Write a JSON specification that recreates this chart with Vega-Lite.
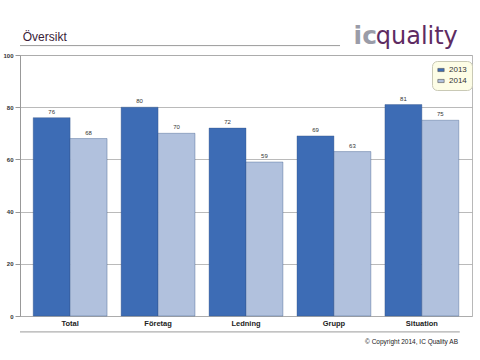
{
  "$schema": "https://vega.github.io/schema/vega-lite/v6.json",
  "width": 452,
  "height": 261,
  "autosize": {"type": "none"},
  "padding": {"left": 20, "top": 55, "right": 8, "bottom": 44},
  "background": "white",
  "config": {
    "view": {"stroke": "#b8b8b8", "strokeWidth": 1},
    "font": "Liberation Sans"
  },
  "layer": [
    {
      "data": {
        "values": [
          {"category": "Total", "year": "2013", "value": 76},
          {"category": "Total", "year": "2014", "value": 68},
          {"category": "Företag", "year": "2013", "value": 80},
          {"category": "Företag", "year": "2014", "value": 70},
          {"category": "Ledning", "year": "2013", "value": 72},
          {"category": "Ledning", "year": "2014", "value": 59},
          {"category": "Grupp", "year": "2013", "value": 69},
          {"category": "Grupp", "year": "2014", "value": 63},
          {"category": "Situation", "year": "2013", "value": 81},
          {"category": "Situation", "year": "2014", "value": 75}
        ]
      },
      "encoding": {
        "x": {
          "field": "category", "type": "nominal", "sort": null,
          "scale": {"paddingInner": 0.16, "paddingOuter": 0.15},
          "axis": {"title": null, "labelAngle": 0, "ticks": false, "domain": false, "labelFontSize": 7.5, "labelFontWeight": "bold", "labelColor": "#222", "labelPadding": 3}
        },
        "xOffset": {"field": "year", "type": "nominal", "scale": {"paddingInner": 0, "paddingOuter": 0}},
        "y": {
          "field": "value", "type": "quantitative",
          "scale": {"domain": [0, 100], "nice": false},
          "axis": {"title": null, "values": [0, 20, 40, 60, 80, 100], "labelFontSize": 6, "labelFontWeight": "bold", "labelColor": "#333", "tickSize": 5, "tickColor": "#999", "domainColor": "#999", "gridColor": "#a8a8a8", "gridWidth": 0.8, "labelPadding": 2}
        }
      },
      "layer": [
        {
          "mark": {"type": "bar", "stroke": "#2f4f80", "strokeWidth": 0.6, "strokeOpacity": 0.6},
          "encoding": {
            "color": {
              "field": "year", "type": "nominal",
              "scale": {"domain": ["2013", "2014"], "range": ["#3d6cb5", "#b1c1dd"]},
              "legend": {
                "title": null, "orient": "none", "legendX": 412, "legendY": 6,
                "fillColor": "#fdfde6", "strokeColor": "#c9c9b5", "cornerRadius": 5, "padding": 5,
                "symbolType": "M-1,-0.5H1V0.5H-1Z", "symbolSize": 40, "symbolStrokeColor": "#555", "symbolStrokeWidth": 0.6,
                "labelFontSize": 8, "labelColor": "#333", "rowPadding": 3
              }
            }
          }
        },
        {
          "mark": {"type": "text", "dy": -6, "fontSize": 6, "color": "#333"},
          "encoding": {
            "text": {"field": "value", "type": "quantitative"}
          }
        }
      ]
    },
    {
      "data": {"values": [{}]},
      "layer": [
        {
          "mark": {"type": "text", "text": "Översikt", "align": "left", "baseline": "alphabetic", "fontSize": 12, "color": "#3a1d38"},
          "encoding": {
            "x": {"datum": 0.006, "type": "quantitative", "scale": {"domain": [0, 1]}, "axis": null},
            "y": {"datum": 105.2, "type": "quantitative"}
          }
        },
        {
          "mark": {"type": "rule", "color": "#9a9a9a", "strokeWidth": 1},
          "encoding": {
            "x": {"datum": 0, "type": "quantitative"},
            "x2": {"datum": 0.708},
            "y": {"datum": 103.6, "type": "quantitative"}
          }
        },
        {
          "mark": {"type": "text", "text": "ic", "align": "left", "baseline": "alphabetic", "fontSize": 25, "font": "DejaVu Sans", "fontWeight": "bold", "color": "#9a9ca8"},
          "encoding": {
            "x": {"datum": 0.738, "type": "quantitative"},
            "y": {"datum": 104.2, "type": "quantitative"}
          }
        },
        {
          "mark": {"type": "text", "text": "quality", "align": "left", "baseline": "alphabetic", "fontSize": 24, "font": "DejaVu Sans", "color": "#5e2b62"},
          "encoding": {
            "x": {"datum": 0.787, "type": "quantitative"},
            "y": {"datum": 104.2, "type": "quantitative"}
          }
        },
        {
          "mark": {"type": "rule", "color": "#9a9a9a", "strokeWidth": 1},
          "encoding": {
            "x": {"datum": 0, "type": "quantitative"},
            "x2": {"datum": 0.973},
            "y": {"datum": -6.1, "type": "quantitative"}
          }
        },
        {
          "mark": {"type": "text", "text": "© Copyright 2014, IC Quality AB", "align": "right", "baseline": "alphabetic", "fontSize": 6.5, "color": "#222"},
          "encoding": {
            "x": {"datum": 0.969, "type": "quantitative"},
            "y": {"datum": -10.9, "type": "quantitative"}
          }
        }
      ]
    }
  ],
  "resolve": {"scale": {"x": "independent"}}
}
